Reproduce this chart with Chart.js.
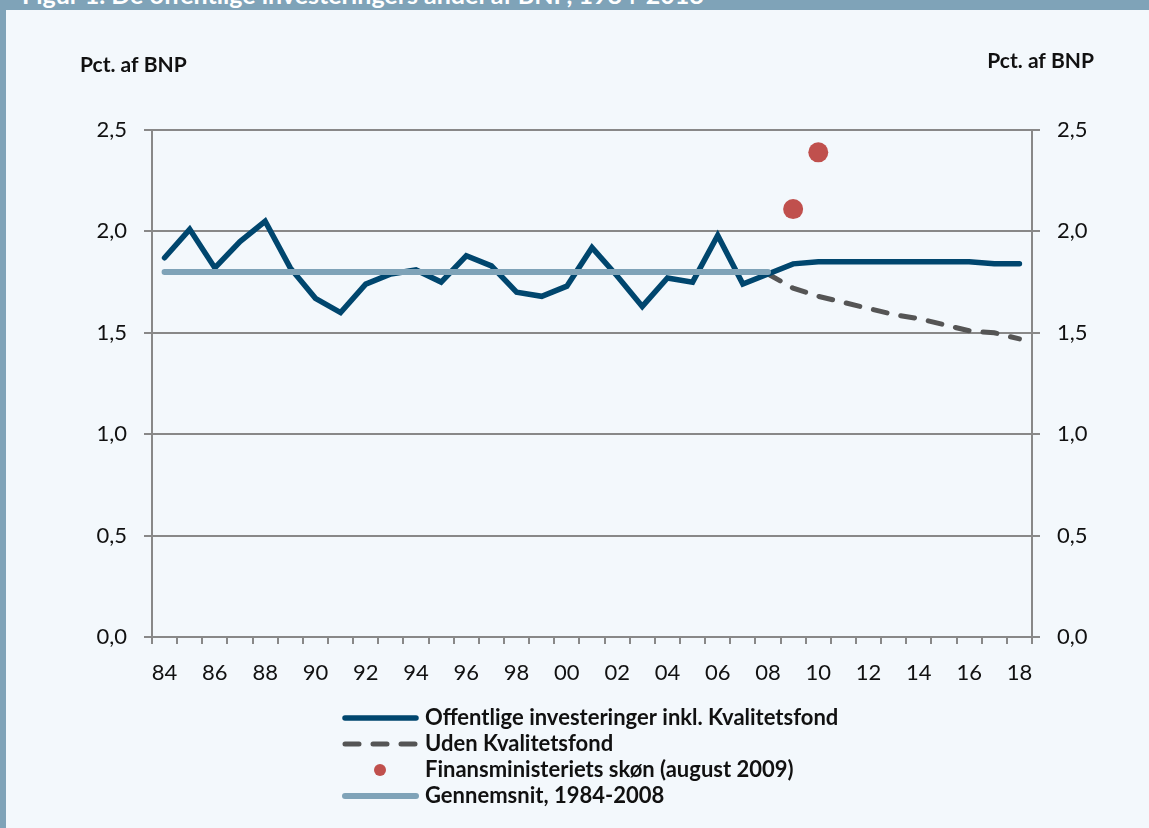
<!DOCTYPE html>
<html>
<head>
<meta charset="utf-8">
<script src="https://cdn.jsdelivr.net/npm/chart.js@4.4.1/dist/chart.umd.min.js"></script>
<style>
  html, body { margin: 0; padding: 0; }
  body { width: 1149px; height: 828px; background: #f3f8fc; position: relative; overflow: hidden; font-family: Lato, sans-serif; }
  #topbar { position: absolute; left: 0; top: 0; width: 1149px; height: 10px; background: #7fa3b8; overflow: hidden; }
  #topbar span { position: absolute; left: 22px; top: -18px; font: bold 25px Lato, sans-serif; line-height: 25px; color: #fff; white-space: nowrap; }
  #leftbar { position: absolute; left: 0; top: 0; width: 6px; height: 828px; background: #7fa3b8; }
  #wrap { position: absolute; left: 0; top: 0; width: 1149px; height: 828px; }
</style>
</head>
<body>
<div id="topbar"><span>Figur 1. De offentlige investeringers andel af BNP, 1984-2018</span></div>
<div id="leftbar"></div>
<div id="wrap"><canvas id="myChart"></canvas></div>
<script>
// DATA
const years = ['84','85','86','87','88','89','90','91','92','93','94','95','96','97','98','99','00','01','02','03','04','05','06','07','08','09','10','11','12','13','14','15','16','17','18'];
const inklKvalitetsfond = [1.87,2.01,1.82,1.95,2.05,1.82,1.67,1.60,1.74,1.79,1.81,1.75,1.88,1.83,1.70,1.68,1.73,1.92,1.78,1.63,1.77,1.75,1.98,1.74,1.79,1.84,1.85,1.85,1.85,1.85,1.85,1.85,1.85,1.84,1.84];
const udenKvalitetsfond = [null,null,null,null,null,null,null,null,null,null,null,null,null,null,null,null,null,null,null,null,null,null,null,null,1.79,1.72,1.68,1.65,1.62,1.59,1.57,1.54,1.51,1.50,1.47];
const finansSkoen = [null,null,null,null,null,null,null,null,null,null,null,null,null,null,null,null,null,null,null,null,null,null,null,null,null,2.11,2.39,null,null,null,null,null,null,null,null];
const gennemsnit = [1.80,1.80,1.80,1.80,1.80,1.80,1.80,1.80,1.80,1.80,1.80,1.80,1.80,1.80,1.80,1.80,1.80,1.80,1.80,1.80,1.80,1.80,1.80,1.80,1.80,null,null,null,null,null,null,null,null,null,null];
const seriesNames = ['Offentlige investeringer inkl. Kvalitetsfond','Uden Kvalitetsfond','Finansministeriets skøn (august 2009)','Gennemsnit, 1984-2008'];
const yTicks = [0, 0.5, 1.0, 1.5, 2.0, 2.5];
const axisTitle = 'Pct. af BNP';

// PLUGIN FOR AXIS TITLES AND LEGEND
const extras = {
    id: 'extras',
    afterDraw(chart) {
        const ctx = chart.ctx;
        ctx.save();
        ctx.fillStyle = '#111';
        ctx.font = 'bold 21px Lato';
        ctx.textBaseline = 'alphabetic';
        ctx.textAlign = 'left';
        ctx.fillText(axisTitle, 80, 72);
        ctx.textAlign = 'right';
        ctx.fillText(axisTitle, 1094, 68);

        // legend
        const ds = chart.data.datasets;
        const x0 = 342, x1 = 418, rowY = [718, 744, 770, 796];
        ds.forEach(function(d, r) {
            const y = rowY[r];
            ctx.save();
            if (d.showLine === false) {
                ctx.fillStyle = d.backgroundColor;
                ctx.beginPath();
                ctx.arc((x0 + x1) / 2, y, 6, 0, Math.PI * 2);
                ctx.fill();
            } else {
                ctx.strokeStyle = d.borderColor;
                ctx.lineWidth = d.borderWidth;
                ctx.lineCap = 'round';
                ctx.setLineDash(d.borderDash || []);
                ctx.beginPath();
                ctx.moveTo(x0 + 3, y);
                ctx.lineTo(x1 - 2, y);
                ctx.stroke();
            }
            ctx.restore();
            ctx.fillStyle = '#111';
            ctx.font = 'bold 22px Lato';
            ctx.textAlign = 'left';
            ctx.textBaseline = 'middle';
            ctx.fillText(d.label, 425, y);
        });
        ctx.restore();
    }
};

function fmt(v) {
    return Number(v).toFixed(1).replace('.', ',');
}

const ctx = document.getElementById('myChart').getContext('2d');
new Chart(ctx, {
    type: 'line',
    data: {
        labels: years,
        datasets: [{
            label: seriesNames[0],
            data: inklKvalitetsfond,
            borderColor: '#00466e',
            backgroundColor: '#00466e',
            borderWidth: 5.5,
            pointRadius: 0,
            borderCapStyle: 'round',
            borderJoinStyle: 'miter',
            order: 1
        }, {
            label: seriesNames[1],
            data: udenKvalitetsfond,
            borderColor: '#555555',
            backgroundColor: '#555555',
            borderWidth: 5,
            borderDash: [14, 14],
            borderCapStyle: 'round',
            pointRadius: 0,
            order: 2
        }, {
            label: seriesNames[2],
            data: finansSkoen,
            showLine: false,
            borderColor: '#c0504d',
            backgroundColor: '#c0504d',
            pointRadius: 10,
            pointBorderWidth: 0,
            order: 0
        }, {
            label: seriesNames[3],
            data: gennemsnit,
            borderColor: '#7fa3b8',
            backgroundColor: '#7fa3b8',
            borderWidth: 6,
            borderCapStyle: 'round',
            pointRadius: 0,
            order: 0
        }]
    },
    options: {
        responsive: true,
        maintainAspectRatio: false,
        animation: false,
        layout: { padding: { left: 82, right: 47, top: 130, bottom: 0 } },
        plugins: {
            legend: { display: false },
            tooltip: { enabled: false }
        },
        scales: {
            x: {
                offset: true,
                afterFit: function(scale) { scale.height = 191; },
                grid: { offset: true, drawOnChartArea: false, tickLength: 7, color: '#888888', lineWidth: 2 },
                border: { display: true, color: '#888888', width: 2 },
                ticks: {
                    autoSkip: false,
                    maxRotation: 0,
                    padding: 16,
                    color: '#111',
                    font: { family: 'Lato', size: 22 },
                    callback: function(v, i) { return i % 2 === 0 ? years[i] : ''; }
                }
            },
            y: {
                position: 'left',
                min: 0,
                max: 2.5,
                afterFit: function(scale) { scale.width = 70; },
                afterBuildTicks: function(scale) { scale.ticks = yTicks.map(function(v) { return { value: v }; }); },
                grid: { color: '#888888', lineWidth: 2, tickLength: 8 },
                border: { display: true, color: '#888888', width: 2 },
                ticks: { padding: 17, color: '#111', font: { family: 'Lato', size: 22 }, callback: fmt }
            },
            y2: {
                position: 'right',
                min: 0,
                max: 2.5,
                afterFit: function(scale) { scale.width = 70; },
                afterBuildTicks: function(scale) { scale.ticks = yTicks.map(function(v) { return { value: v }; }); },
                grid: { drawOnChartArea: false, color: '#888888', lineWidth: 2, tickLength: 8 },
                border: { display: true, color: '#888888', width: 2 },
                ticks: { padding: 17, color: '#111', font: { family: 'Lato', size: 22 }, callback: fmt }
            }
        }
    },
    plugins: [extras]
});
</script>
</body>
</html>
